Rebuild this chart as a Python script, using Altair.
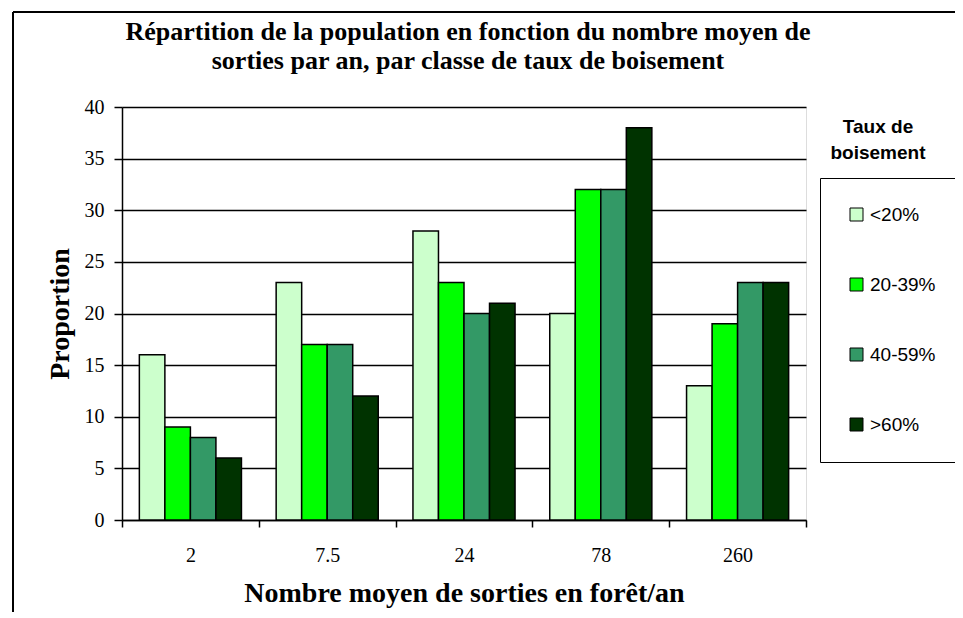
import altair as alt
import pandas as pd

categories = ["2", "7.5", "24", "78", "260"]
classes = ["<20%", "20-39%", "40-59%", ">60%"]
colors = ["#ccffcc", "#00ff00", "#339966", "#003300"]
v_lt20 = [16, 23, 28, 20, 13]
v_20_39 = [9, 17, 23, 32, 19]
v_40_59 = [8, 17, 20, 32, 23]
v_gt60 = [6, 12, 21, 38, 23]
y_ticks = [0, 5, 10, 15, 20, 25, 30, 35, 40]

title_text = ("Répartition de la population en fonction du nombre moyen de\n"
              "sorties par an, par classe de taux de boisement")
legend_title = "Taux de\nboisement"

rows = []
for cls, vals in zip(classes, [v_lt20, v_20_39, v_40_59, v_gt60]):
    for c, v in zip(categories, vals):
        rows.append({"sorties": c, "classe": cls, "proportion": v})
df = pd.DataFrame(rows)

W, H = 684, 413
SERIF = "Liberation Serif"

bars = alt.Chart(df).mark_bar(stroke="black", strokeWidth=1.5).encode(
    x=alt.X("sorties:N", sort=categories, title="Nombre moyen de sorties en forêt/an",
            scale=alt.Scale(paddingInner=0, paddingOuter=0),
            axis=alt.Axis(labelAngle=0, tickBand="extent", tickSize=7, tickColor="black",
                          domainColor="black", domainWidth=1.5, tickWidth=1.5,
                          labelFont=SERIF, labelFontSize=20, labelColor="black", labelPadding=18,
                          titleFont=SERIF, titleFontSize=28, titleFontWeight="bold",
                          titleColor="black", titlePadding=14)),
    xOffset=alt.XOffset("classe:N", sort=classes,
                        scale=alt.Scale(domain=classes, paddingInner=0, paddingOuter=0.68)),
    y=alt.Y("proportion:Q", title="Proportion",
            scale=alt.Scale(domain=[0, 40], nice=False),
            axis=alt.Axis(values=y_ticks, grid=True, gridColor="black", gridWidth=1.5,
                          tickSize=8, tickColor="black", tickWidth=1.5,
                          domainColor="black", domainWidth=1.5,
                          labelFont=SERIF, labelFontSize=20, labelColor="black", labelPadding=10,
                          titleFont=SERIF, titleFontSize=28, titleFontWeight="bold",
                          titleColor="black", titlePadding=10)),
    color=alt.Color("classe:N", sort=classes,
                    scale=alt.Scale(domain=classes, range=colors),
                    legend=alt.Legend(orient="none", legendX=698, legendY=71, title=None,
                                      strokeColor="black", fillColor="white", padding=27,
                                      rowPadding=50, symbolType="square", symbolSize=169,
                                      symbolStrokeColor="black", symbolStrokeWidth=1,
                                      labelFont="Liberation Sans", labelFontSize=19,
                                      labelColor="black", labelOffset=4)),
)

one = pd.DataFrame({"t": [legend_title], "title": [title_text]})
leg_title = alt.Chart(one).mark_text(font="Liberation Sans", fontSize=19, fontWeight="bold",
                                     align="center", baseline="middle", lineBreak="\n",
                                     lineHeight=26, color="black").encode(
    text="t:N", x=alt.value(756), y=alt.value(20))

main_title = alt.Chart(one).mark_text(font=SERIF, fontSize=26, fontWeight="bold",
                                      align="center", baseline="alphabetic", lineBreak="\n",
                                      lineHeight=29, color="black").encode(
    text="title:N", x=alt.value(W / 2 + 4), y=alt.value(-67))

border_h = alt.Chart(one).mark_rule(color="black", strokeWidth=2).encode(
    x=alt.value(-109), x2=alt.value(900), y=alt.value(-95))
border_v = alt.Chart(one).mark_rule(color="black", strokeWidth=2).encode(
    x=alt.value(-109), y=alt.value(-95), y2=alt.value(600))

chart = alt.layer(bars, leg_title, main_title, border_h, border_v).properties(
    width=W, height=H,
    autosize=alt.AutoSizeParams(type="none"),
    padding={"left": 114, "top": 99, "right": 149, "bottom": 92},
).configure_view(fill="#c0c0c0", stroke="#808080", strokeWidth=1.5
).configure(background="white")

chart.save("out.html", embed_options={"renderer": "svg", "actions": False})
